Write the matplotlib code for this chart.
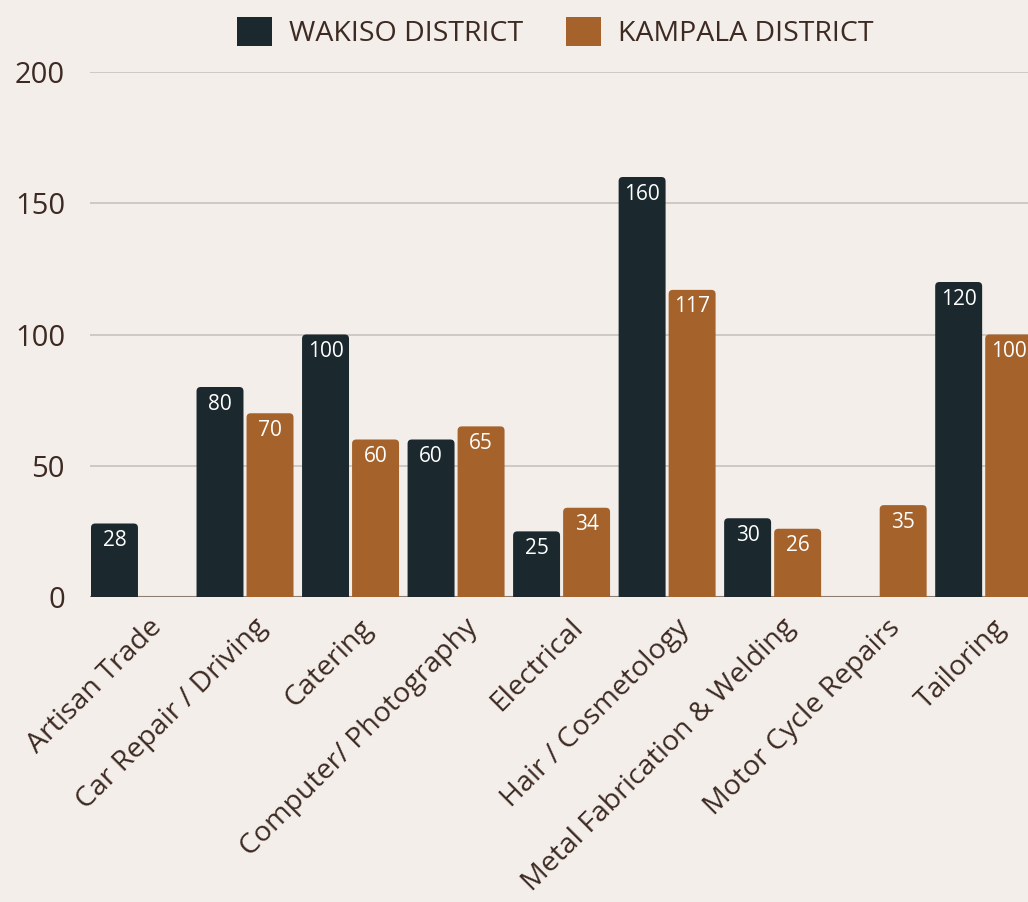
import numpy as np
import matplotlib.pyplot as plt
import matplotlib.transforms as mtransforms
from matplotlib.patches import FancyBboxPatch, Patch

categories = ['Artisan Trade', 'Car Repair / Driving', 'Catering', 'Computer/ Photography',
              'Electrical', 'Hair / Cosmetology', 'Metal Fabrication & Welding',
              'Motor Cycle Repairs', 'Tailoring']
wakiso = [28, 80, 100, 60, 25, 160, 30, None, 120]
kampala = [None, 70, 60, 65, 34, 117, 26, 35, 100]
series_names = ['WAKISO DISTRICT', 'KAMPALA DISTRICT']

bg = '#f3eeea'
dark = '#1b282d'
brown = '#a5622b'
text_col = '#3d2a22'

plt.rcParams['font.family'] = ['Open Sans', 'DejaVu Sans']

fig = plt.figure(figsize=(10.28, 9.02), dpi=100, facecolor=bg)
ax = fig.add_axes([90 / 1028, (902 - 597) / 902, 938 / 1028, 525 / 902])
ax.set_facecolor(bg)

x = np.arange(len(categories))
width = 0.445
offset = 0.237
# keeps the corner rounding circular despite different x/y scales
aspect = (200 / 525) / (1 / 105.5)

for vals, off, col in [(wakiso, -offset, dark), (kampala, offset, brown)]:
    for xi, v in zip(x, vals):
        if v is None:
            continue
        patch = FancyBboxPatch((xi + off - width / 2, -5), width, v + 5,
                               boxstyle='round,pad=0,rounding_size=0.04',
                               mutation_aspect=aspect, facecolor=col,
                               edgecolor='none', zorder=3)
        ax.add_patch(patch)
        ax.text(xi + off, v - 6.5, str(v), ha='center', va='center',
                color='white', fontsize=15, zorder=4)

ax.set_xlim(-0.469, 8.42)
ax.set_ylim(0, 200)
ax.set_yticks([0, 50, 100, 150, 200])
ax.yaxis.grid(True, color='#c9c1bb', linewidth=1.2)
ax.set_axisbelow(True)
ax.axhline(0, color='#8c7d74', linewidth=1.5, zorder=2)
for s in ax.spines.values():
    s.set_visible(False)
ax.tick_params(axis='y', length=0, pad=18, labelsize=21, labelcolor=text_col)
ax.tick_params(axis='x', length=0, pad=12, labelsize=20.5, labelcolor=text_col)
ax.set_xticks(x)
ax.set_xticklabels(categories, rotation=45, ha='right', va='top', rotation_mode='anchor')
shift = mtransforms.ScaledTranslation(8 / 100, 0, fig.dpi_scale_trans)
for lbl in ax.get_xticklabels():
    lbl.set_transform(lbl.get_transform() + shift)

handles = [Patch(facecolor=dark, edgecolor='none'), Patch(facecolor=brown, edgecolor='none')]
fig.legend(handles, series_names, loc='upper center', bbox_to_anchor=(0.54, 1.01),
           ncol=2, frameon=False, fontsize=20.5, labelcolor=text_col,
           handlelength=1.23, handleheight=1.19, handletextpad=0.6, columnspacing=1.51)

fig.savefig('out.png', dpi=100, facecolor=bg)
